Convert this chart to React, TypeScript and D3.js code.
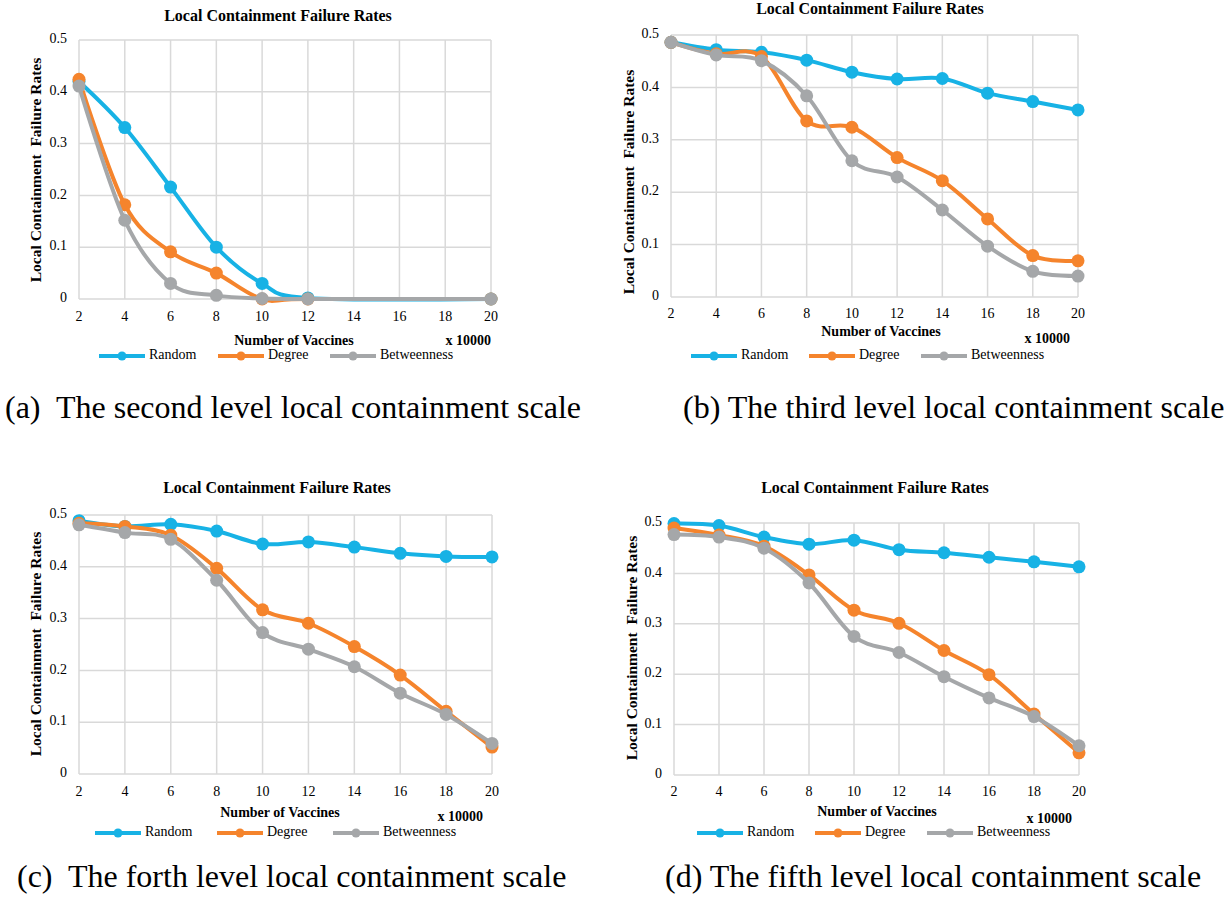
import React from "react";
import * as d3 from "d3";

// ---------- data ----------
const xValues = [2, 4, 6, 8, 10, 12, 14, 16, 18, 20];
const yTicks = [0, 0.1, 0.2, 0.3, 0.4, 0.5];
const seriesNames = ["Random", "Degree", "Betweenness"];
const seriesColors = ["#17B2E5", "#F5842C", "#A5A7A9"];

// (a) second level
const aRandom = [0.42, 0.331, 0.216, 0.1, 0.03, 0.002, null, null, null, 0];
const aDegree = [0.424, 0.182, 0.091, 0.05, 0.0, 0.0, null, null, null, 0];
const aBetweenness = [0.411, 0.152, 0.03, 0.007, 0.001, 0.0, null, null, null, 0];

// (b) third level
const bRandom = [0.486, 0.472, 0.467, 0.452, 0.429, 0.416, 0.417, 0.389, 0.373, 0.357];
const bDegree = [0.486, 0.464, 0.459, 0.336, 0.324, 0.266, 0.222, 0.149, 0.079, 0.069];
const bBetweenness = [0.486, 0.462, 0.451, 0.384, 0.26, 0.229, 0.166, 0.097, 0.049, 0.04];

// (c) forth level
const cRandom = [0.489, 0.478, 0.482, 0.469, 0.444, 0.448, 0.438, 0.426, 0.42, 0.419];
const cDegree = [0.484, 0.478, 0.461, 0.397, 0.317, 0.291, 0.246, 0.191, 0.121, 0.052];
const cBetweenness = [0.481, 0.466, 0.453, 0.374, 0.273, 0.241, 0.207, 0.156, 0.115, 0.059];

// (d) fifth level
const dRandom = [0.499, 0.495, 0.472, 0.458, 0.466, 0.447, 0.441, 0.432, 0.423, 0.413];
const dDegree = [0.49, 0.476, 0.454, 0.397, 0.327, 0.301, 0.247, 0.199, 0.121, 0.044];
const dBetweenness = [0.477, 0.472, 0.45, 0.381, 0.275, 0.243, 0.195, 0.153, 0.116, 0.058];

const chartTitle = "Local Containment Failure Rates";
const yAxisTitle = "Local Containment  Failure Rates";
const xAxisTitle = "Number of Vaccines";
const xUnit = "x 10000";
const captions = [
  "(a)  The second level local containment scale",
  "(b) The third level local containment scale",
  "(c)  The forth level local containment scale",
  "(d) The fifth level local containment scale",
];

// ---------- layout ----------
type Layout = {
  left: number; right: number; top: number; bottom: number;
  titleX: number; titleY: number;
  yLabX: number; yLabY: number;
  tickY: number;
  xTitleX: number; xTitleY: number;
  unitRight: number; unitY: number;
  legendY: number; legendX: number[];
  capX: number; capY: number;
};

const layouts: Layout[] = [
  { left: 79, right: 491, top: 40, bottom: 299, titleX: 278, titleY: 17, yLabX: 37, yLabY: 170, tickY: 318,
    xTitleX: 294, xTitleY: 342, unitRight: 491, unitY: 342, legendY: 356, legendX: [99, 218, 330], capX: 5, capY: 411 },
  { left: 671, right: 1078, top: 35, bottom: 297, titleX: 870, titleY: 10, yLabX: 630, yLabY: 182, tickY: 315,
    xTitleX: 881, xTitleY: 333, unitRight: 1070, unitY: 340, legendY: 356, legendX: [691, 809, 921], capX: 683, capY: 411 },
  { left: 79, right: 492, top: 515, bottom: 774, titleX: 277, titleY: 489, yLabX: 37, yLabY: 644, tickY: 793,
    xTitleX: 280, xTitleY: 814, unitRight: 483, unitY: 818, legendY: 833, legendX: [95, 217, 333], capX: 17, capY: 880 },
  { left: 674, right: 1079, top: 523, bottom: 775, titleX: 875, titleY: 489, yLabX: 633, yLabY: 648, tickY: 793,
    xTitleX: 877, xTitleY: 813, unitRight: 1072, unitY: 820, legendY: 833, legendX: [697, 815, 927], capX: 665, capY: 880 },
];

const panelData: (number | null)[][][] = [
  [aRandom, aDegree, aBetweenness],
  [bRandom, bDegree, bBetweenness],
  [cRandom, cDegree, cBetweenness],
  [dRandom, dDegree, dBetweenness],
];

const FONT = "'Liberation Serif', 'Times New Roman', serif";
const GRID = "#D9D9D9";

function Panel({ L, series, caption }: { L: Layout; series: (number | null)[][]; caption: string }) {
  const x = d3.scaleLinear().domain([2, 20]).range([L.left, L.right]);
  const y = d3.scaleLinear().domain([0, 0.5]).range([L.bottom, L.top]);
  const line = d3
    .line<[number, number]>()
    .x((d) => x(d[0]))
    .y((d) => y(d[1]))
    .curve(d3.curveCatmullRom.alpha(0));

  return (
    <g>
      <text x={L.titleX} y={L.titleY} textAnchor="middle" dominantBaseline="middle"
        fontFamily={FONT} fontWeight="bold" fontSize={16}>{chartTitle}</text>
      {/* grid */}
      {yTicks.map((t) => (
        <line key={"gy" + t} x1={L.left} x2={L.right} y1={y(t)} y2={y(t)} stroke={GRID} strokeWidth={1.5} />
      ))}
      {xValues.map((t) => (
        <line key={"gx" + t} x1={x(t)} x2={x(t)} y1={L.top} y2={L.bottom} stroke={GRID} strokeWidth={1.5} />
      ))}
      {/* y tick labels */}
      {yTicks.map((t) => (
        <text key={"ty" + t} x={L.left - 12} y={y(t)} textAnchor="end" dominantBaseline="middle"
          fontFamily={FONT} fontSize={14}>{d3.format("~g")(t)}</text>
      ))}
      {/* x tick labels */}
      {xValues.map((t) => (
        <text key={"tx" + t} x={x(t)} y={L.tickY} textAnchor="middle" dominantBaseline="middle"
          fontFamily={FONT} fontSize={14}>{t}</text>
      ))}
      {/* axis titles */}
      <text transform={`translate(${L.yLabX},${L.yLabY}) rotate(-90)`} textAnchor="middle" dominantBaseline="middle"
        fontFamily={FONT} fontWeight="bold" fontSize={15.5} style={{ whiteSpace: "pre" }}>{yAxisTitle}</text>
      <text x={L.xTitleX} y={L.xTitleY} textAnchor="middle" dominantBaseline="middle"
        fontFamily={FONT} fontWeight="bold" fontSize={14}>{xAxisTitle}</text>
      <text x={L.unitRight} y={L.unitY} textAnchor="end" dominantBaseline="middle"
        fontFamily={FONT} fontWeight="bold" fontSize={14}>{xUnit}</text>
      {/* series */}
      {series.map((vals, si) => {
        const pts = vals
          .map((v, i) => [xValues[i], v] as [number, number | null])
          .filter((p) => p[1] !== null) as [number, number][];
        return (
          <g key={"s" + si}>
            <path d={line(pts) || ""} fill="none" stroke={seriesColors[si]} strokeWidth={4}
              strokeLinejoin="round" strokeLinecap="round" />
            {pts.map((p, i) => (
              <circle key={i} cx={x(p[0])} cy={y(p[1])} r={6.5} fill={seriesColors[si]} />
            ))}
          </g>
        );
      })}
      {/* legend */}
      {seriesNames.map((name, si) => {
        const lx = L.legendX[si];
        return (
          <g key={"lg" + si}>
            <line x1={lx} x2={lx + 46} y1={L.legendY} y2={L.legendY} stroke={seriesColors[si]} strokeWidth={4} />
            <circle cx={lx + 23} cy={L.legendY} r={4.5} fill={seriesColors[si]} />
            <text x={lx + 50} y={L.legendY} dominantBaseline="middle" fontFamily={FONT} fontSize={14}>{name}</text>
          </g>
        );
      })}
      {/* caption */}
      <text x={L.capX} y={L.capY} dominantBaseline="middle" fontFamily={FONT} fontSize={32}
        style={{ whiteSpace: "pre" }}>{caption}</text>
    </g>
  );
}

export default function App() {
  return (
    <svg width={1229} height={907} style={{ position: "absolute", left: 0, top: 0, background: "#fff" }}>
      <rect x={0} y={0} width={1229} height={907} fill="#fff" />
      {layouts.map((L, i) => (
        <Panel key={i} L={L} series={panelData[i]} caption={captions[i]} />
      ))}
    </svg>
  );
}
